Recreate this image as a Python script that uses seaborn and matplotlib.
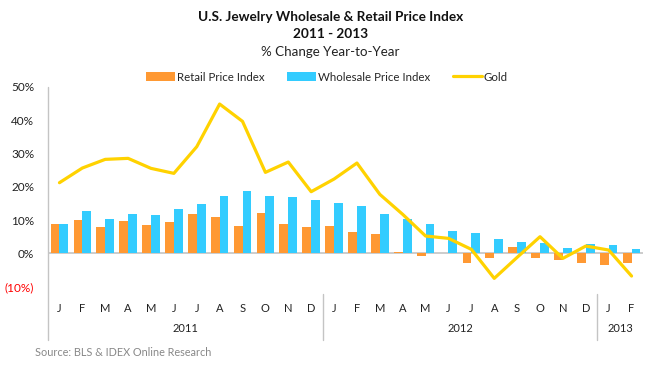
import numpy as np
import pandas as pd
import matplotlib
matplotlib.use('Agg')
import matplotlib.pyplot as plt
import matplotlib.transforms as mtransforms
from matplotlib.ticker import FuncFormatter
import seaborn as sns

months = ['J', 'F', 'M', 'A', 'M', 'J', 'J', 'A', 'S', 'O', 'N', 'D',
          'J', 'F', 'M', 'A', 'M', 'J', 'J', 'A', 'S', 'O', 'N', 'D',
          'J', 'F']
years = ['2011', '2012', '2013']
months_per_year = [12, 12, 2]

retail = [8.8, 10.0, 7.9, 9.7, 8.5, 9.4, 11.8, 10.9, 8.2, 12.1, 8.8, 7.9,
          8.2, 6.4, 5.8, 0.4, -0.7, 0.0, -2.8, -1.3, 1.9, -1.3, -1.9, -2.8,
          -3.4, -2.8]
wholesale = [8.8, 12.7, 10.3, 11.8, 11.5, 13.3, 14.8, 17.2, 18.7, 17.2, 16.9, 16.0,
             15.1, 14.2, 11.8, 10.3, 8.8, 6.7, 6.1, 4.3, 3.4, 3.1, 1.6, 2.8,
             2.5, 1.3]
gold = [21.2, 25.6, 28.2, 28.5, 25.5, 24.0, 32.0, 44.8, 39.6, 24.3, 27.4, 18.5,
        22.3, 27.1, 17.7, 11.7, 5.2, 4.5, 1.2, -7.5, -1.2, 5.0, -1.5, 2.2,
        1.0, -6.8]

idx = list(range(len(months)))
df = pd.DataFrame({
    'idx': idx * 2,
    'value': np.array(retail + wholesale) / 100,
    'series': ['Retail Price Index'] * len(idx) + ['Wholesale Price Index'] * len(idx),
})

sns.set_style('white')
plt.rcParams['font.family'] = ['Lato', 'DejaVu Sans']

fig = plt.figure(figsize=(6.5, 3.65), dpi=100)
ax = fig.add_axes([48 / 650, 1 - 286.7 / 365, (643 - 48) / 650, 200 / 365])

sns.barplot(data=df, x='idx', y='value', hue='series', order=idx,
            palette=['#FF9933', '#33CCFF'], width=0.77, saturation=1,
            linewidth=0, ax=ax)
sns.lineplot(x=idx, y=np.array(gold) / 100, color='#FFD200', linewidth=2.3,
             label='Gold', ax=ax)

ax.set_xlim(-0.5, len(idx) - 0.5)
ax.set_ylim(-0.10, 0.50)
ax.set_yticks(np.arange(-0.1, 0.51, 0.1))


def pct(v, pos):
    v = round(v * 100)
    return f'({-v}%)' if v < 0 else f'{v}%'


ax.yaxis.set_major_formatter(FuncFormatter(pct))
ax.tick_params(axis='y', length=0, pad=10, labelsize=8.5, labelcolor='#222222')
for lab in ax.get_yticklabels():
    if lab.get_text().startswith('('):
        lab.set_color('red')

ax.set_xticks(idx)
ax.set_xticklabels(months)
ax.tick_params(axis='x', length=0, pad=12, labelsize=8, labelcolor='#222222')
ax.set_xlabel('')
ax.set_ylabel('')

for s in ax.spines.values():
    s.set_visible(False)
ax.axhline(0, color='#C4C4C4', linewidth=1.2, zorder=0.5)

trans = mtransforms.blended_transform_factory(ax.transData, ax.transAxes)
ax.plot([-0.5, -0.5], [1.0, -0.265], transform=trans, color='#C4C4C4',
        linewidth=1, clip_on=False)
start = 0
for yr, n in zip(years, months_per_year):
    ax.text(start + n / 2 - 0.5, -0.21, yr, transform=trans, ha='center',
            va='center', fontsize=8, color='#222222')
    start += n
    if start < len(idx):
        ax.plot([start - 0.5, start - 0.5], [-0.035, -0.265], transform=trans,
                color='#C4C4C4', linewidth=1, clip_on=False)

handles, labels = ax.get_legend_handles_labels()
order = [labels.index(l) for l in ['Retail Price Index', 'Wholesale Price Index', 'Gold']]
ax.legend([handles[i] for i in order], [labels[i] for i in order],
          loc='center', bbox_to_anchor=(0.503, 0.789), bbox_transform=fig.transFigure,
          ncol=3, frameon=False, fontsize=8.3, handlelength=2.5, handleheight=0.7,
          handletextpad=0.15, columnspacing=2.0, borderaxespad=0)

fig.text(0.508, 1 - 17 / 365, 'U.S. Jewelry Wholesale & Retail Price Index',
         ha='center', va='center', fontsize=9.8, fontweight='bold', color='#111111')
fig.text(0.508, 1 - 34 / 365, '2011 - 2013', ha='center', va='center',
         fontsize=9.8, fontweight='bold', color='#111111')
fig.text(0.508, 1 - 52 / 365, '% Change Year-to-Year', ha='center', va='center',
         fontsize=9.6, color='#222222')
fig.text(35 / 650, 1 - 353 / 365, 'Source: BLS & IDEX Online Research',
         ha='left', va='center', fontsize=7.8, color='#888888')

fig.savefig('out.png', dpi=100)
